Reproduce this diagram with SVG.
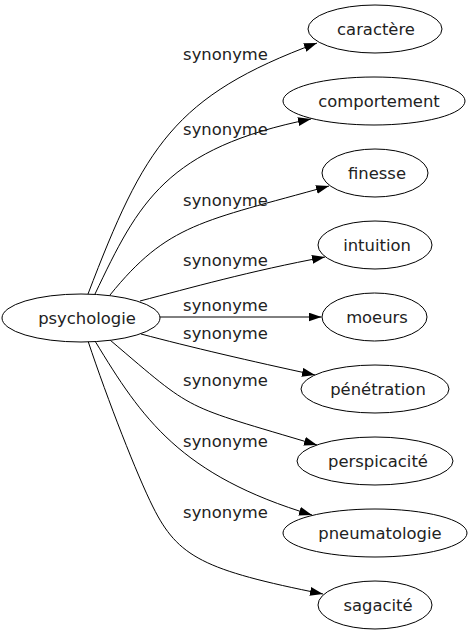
<svg xmlns="http://www.w3.org/2000/svg" width="472" height="635" viewBox="0 0 472 635">
<style>
.node ellipse{fill:#fff;stroke:#000;stroke-width:1}
.node text{font-family:"DejaVu Sans",sans-serif;font-size:16.4px;fill:#222;text-anchor:middle}
.edge path{fill:none;stroke:#000;stroke-width:1;marker-end:url(#arrow)}
.lbl{font-family:"DejaVu Sans",sans-serif;font-size:16.4px;fill:#222;text-anchor:middle}
</style>
<defs>
<marker id="arrow" markerUnits="userSpaceOnUse" markerWidth="14" markerHeight="10" refX="13" refY="4.5" orient="auto">
<path d="M0,0 L13,4.5 L0,9 z" fill="#000"/>
</marker>
</defs>
<rect width="472" height="635" fill="#fff"/>
<g id="edges">
<g class="edge"><path d="M88,294 C144.3,146.6 174,95.9 317,43"/><text class="lbl" x="225.5" y="60">synonyme</text></g>
<g class="edge"><path d="M95,294 C138.7,202.2 166,148 311,119"/><text class="lbl" x="225.5" y="135">synonyme</text></g>
<g class="edge"><path d="M110,295 C167.9,223.5 201.8,221.6 329,186"/><text class="lbl" x="225.5" y="206">synonyme</text></g>
<g class="edge"><path d="M140,301 C190,288 250,271 325,257"/><text class="lbl" x="225.5" y="266">synonyme</text></g>
<g class="edge"><path d="M160,317 L321.5,317"/><text class="lbl" x="225.5" y="311">synonyme</text></g>
<g class="edge"><path d="M141,334 C190,347 250,361 315,375"/><text class="lbl" x="225.5" y="339">synonyme</text></g>
<g class="edge"><path d="M110,340 C197.1,414 179.5,403.7 317,445"/><text class="lbl" x="225.5" y="386">synonyme</text></g>
<g class="edge"><path d="M95,341 C142,418.6 180.5,475.5 312,515"/><text class="lbl" x="225.5" y="447">synonyme</text></g>
<g class="edge"><path d="M88,341 C107.8,400.4 137,475.1 153,507 C178,557.1 203.4,570.1 323,594"/><text class="lbl" x="225.5" y="518">synonyme</text></g>
</g>
<g id="psychologie" class="node"><ellipse cx="81" cy="318" rx="79" ry="24"/><text x="87" y="323.5">psychologie</text></g>
<g id="caractere" class="node"><ellipse cx="375" cy="29" rx="67" ry="24"/><text x="376" y="34.5">caractère</text></g>
<g id="comportement" class="node"><ellipse cx="374" cy="101" rx="91" ry="24"/><text x="379" y="106.5">comportement</text></g>
<g id="finesse" class="node"><ellipse cx="375" cy="173" rx="53" ry="24"/><text x="377" y="178.5">finesse</text></g>
<g id="intuition" class="node"><ellipse cx="375" cy="245" rx="57" ry="24"/><text x="377" y="250.5">intuition</text></g>
<g id="moeurs" class="node"><ellipse cx="374.5" cy="317" rx="52.5" ry="24"/><text x="377" y="322.5">moeurs</text></g>
<g id="penetration" class="node"><ellipse cx="375" cy="389" rx="74" ry="24"/><text x="378" y="394.5">pénétration</text></g>
<g id="perspicacite" class="node"><ellipse cx="375" cy="461" rx="78" ry="24"/><text x="378" y="466.5">perspicacité</text></g>
<g id="pneumatologie" class="node"><ellipse cx="375" cy="533" rx="92" ry="24"/><text x="380" y="538.5">pneumatologie</text></g>
<g id="sagacite" class="node"><ellipse cx="375" cy="605" rx="57" ry="24"/><text x="378" y="610.5">sagacité</text></g>
</svg>
